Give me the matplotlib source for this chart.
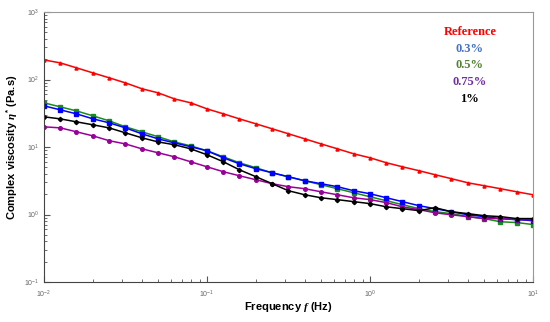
import matplotlib
matplotlib.use("Agg")
import matplotlib.pyplot as plt
from matplotlib.ticker import LogLocator, LogFormatterMathtext, NullFormatter

# frequency points, 10 per decade from 0.01 to 10 Hz
freq = [0.01, 0.0126, 0.0158, 0.02, 0.0251, 0.0316, 0.0398, 0.0501, 0.0631, 0.0794,
        0.1, 0.126, 0.158, 0.2, 0.251, 0.316, 0.398, 0.501, 0.631, 0.794,
        1.0, 1.26, 1.58, 2.0, 2.51, 3.16, 3.98, 5.01, 6.31, 7.94, 10.0]

eta_ref = [195, 176, 149, 125, 106, 89, 73, 63.4, 51.6, 45.1,
           36.7, 31.0, 26.1, 22.0, 18.6, 15.7, 13.2, 11.1, 9.40, 7.93,
           6.92, 5.84, 5.09, 4.45, 3.88, 3.39, 2.95, 2.67, 2.41, 2.17, 1.96]
eta_03 = [40.7, 35.5, 31.0, 26.1, 22.8, 19.2, 15.7, 13.2, 11.5, 10.1,
          8.79, 6.92, 5.64, 4.76, 4.15, 3.62, 3.16, 2.86, 2.58, 2.25,
          2.03, 1.77, 1.55, 1.35, 1.22, 1.10, 0.99, 0.93, 0.87, 0.84, 0.81]
eta_05 = [45.1, 39.3, 34.3, 28.9, 24.4, 19.9, 16.8, 14.2, 11.9, 10.4,
          8.79, 7.16, 5.84, 4.92, 4.15, 3.62, 3.16, 2.76, 2.41, 2.10,
          1.83, 1.60, 1.40, 1.22, 1.10, 1.03, 0.93, 0.87, 0.78, 0.76, 0.71]
eta_075 = [19.9, 19.2, 16.8, 14.6, 12.4, 11.1, 9.40, 8.21, 7.16, 6.04,
           5.09, 4.30, 3.75, 3.27, 2.86, 2.58, 2.41, 2.17, 1.96, 1.77,
           1.66, 1.50, 1.30, 1.18, 1.06, 0.99, 0.93, 0.87, 0.87, 0.84, 0.84]
eta_1 = [28.0, 26.1, 23.6, 21.3, 19.2, 16.2, 13.7, 11.9, 10.8, 9.40,
         7.67, 6.04, 4.60, 3.62, 2.86, 2.25, 1.96, 1.77, 1.66, 1.55,
         1.45, 1.30, 1.22, 1.14, 1.26, 1.10, 1.03, 0.96, 0.93, 0.87, 0.87]

labels = ["Reference", "0.3%", "0.5%", "0.75%", "1%"]
label_colors = ["#ff0000", "#4472c4", "#548235", "#7030a0", "#000000"]

plt.rcParams["font.family"] = ["Liberation Sans", "DejaVu Sans"]
plt.rcParams["mathtext.fontset"] = "custom"
plt.rcParams["mathtext.it"] = "Liberation Serif:italic:bold"
plt.rcParams["mathtext.rm"] = "Liberation Sans:bold"

fig = plt.figure(figsize=(5.5, 3.22), dpi=100)
ax = fig.add_axes([44 / 550, 40 / 322, 489 / 550, 270 / 322])

ax.plot(freq, eta_ref, color="#ff0000", marker="^", ms=2.2, lw=1.1)
ax.plot(freq, eta_05, color="#1a8c1a", marker="s", ms=2.6, lw=1.1)
ax.plot(freq, eta_03, color="#0000ff", marker="s", ms=2.6, lw=1.1)
ax.plot(freq, eta_075, color="#990099", marker="o", ms=2.6, lw=1.1)
ax.plot(freq, eta_1, color="#000000", marker="D", ms=2.2, lw=1.1)

ax.set_xscale("log")
ax.set_yscale("log")
ax.set_xlim(0.01, 10)
ax.set_ylim(0.1, 1000)

for axis in (ax.xaxis, ax.yaxis):
    axis.set_major_locator(LogLocator(base=10))
    axis.set_minor_locator(LogLocator(base=10, subs=range(2, 10)))
    axis.set_major_formatter(LogFormatterMathtext())
    axis.set_minor_formatter(NullFormatter())

ax.tick_params(which="major", direction="in", length=4, width=0.8,
               labelsize=5, labelcolor="#666666", color="#555555")
ax.tick_params(which="minor", direction="in", length=2, width=0.6, color="#555555")
ax.tick_params(axis="x", pad=5)

for side in ("left", "bottom"):
    ax.spines[side].set_color("#444444")
for side in ("top", "right"):
    ax.spines[side].set_color("#999999")

ax.set_xlabel("Frequency $f$ (Hz)", fontsize=8, fontweight="bold", labelpad=0)
ax.set_ylabel(r"Complex viscosity $\eta^{*}$ (Pa.s)", fontsize=8,
              fontweight="bold", labelpad=3)

for k, (txt, col) in enumerate(zip(labels, label_colors)):
    ax.text(0.871, 0.926 - k * 0.062, txt, transform=ax.transAxes, ha="center",
            va="center", color=col, fontsize=9, fontweight="bold",
            family="Liberation Serif")

fig.savefig("out.png", dpi=100)
